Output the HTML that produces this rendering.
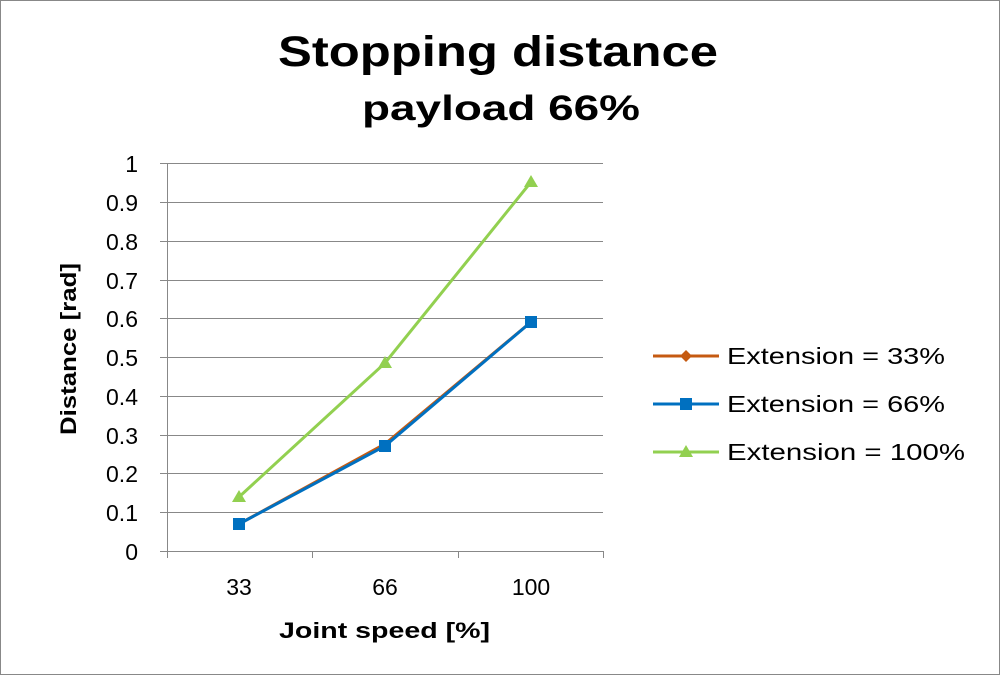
<!DOCTYPE html>
<html><head><style>
html,body{margin:0;padding:0;background:#fff;}
svg{display:block;}
text{font-family:"Liberation Sans",sans-serif;}
</style></head><body>
<svg width="1000" height="675" viewBox="0 0 1000 675">
<rect x="0.5" y="0.5" width="999" height="674" fill="#fff" stroke="#888"/>
<text x="278" y="66" font-size="43" font-weight="bold" textLength="440" lengthAdjust="spacingAndGlyphs">Stopping distance</text>
<text x="362" y="120" font-size="35" font-weight="bold" textLength="278" lengthAdjust="spacingAndGlyphs">payload 66%</text>
<g stroke="#888" stroke-width="1">
<line x1="160" y1="163.5" x2="603" y2="163.5"/>
<line x1="160" y1="202.5" x2="603" y2="202.5"/>
<line x1="160" y1="241.5" x2="603" y2="241.5"/>
<line x1="160" y1="280.5" x2="603" y2="280.5"/>
<line x1="160" y1="318.5" x2="603" y2="318.5"/>
<line x1="160" y1="357.5" x2="603" y2="357.5"/>
<line x1="160" y1="396.5" x2="603" y2="396.5"/>
<line x1="160" y1="435.5" x2="603" y2="435.5"/>
<line x1="160" y1="473.5" x2="603" y2="473.5"/>
<line x1="160" y1="512.5" x2="603" y2="512.5"/>
<line x1="160" y1="551.5" x2="603" y2="551.5"/>
<line x1="167.5" y1="163" x2="167.5" y2="558"/>
<line x1="312.5" y1="551" x2="312.5" y2="558"/>
<line x1="458.5" y1="551" x2="458.5" y2="558"/>
<line x1="603.5" y1="551" x2="603.5" y2="558"/>
</g>
<g font-size="23" text-anchor="end">
<text x="138" y="172">1</text>
<text x="138" y="211">0.9</text>
<text x="138" y="250">0.8</text>
<text x="138" y="289">0.7</text>
<text x="138" y="327">0.6</text>
<text x="138" y="366">0.5</text>
<text x="138" y="405">0.4</text>
<text x="138" y="444">0.3</text>
<text x="138" y="482">0.2</text>
<text x="138" y="521">0.1</text>
<text x="138" y="560">0</text>
</g>
<g font-size="23" text-anchor="middle">
<text x="239" y="595">33</text>
<text x="385" y="595">66</text>
<text x="531" y="595">100</text>
</g>
<text x="279" y="638" font-size="22" font-weight="bold" textLength="211" lengthAdjust="spacingAndGlyphs">Joint speed [%]</text>
<text transform="translate(76,435) rotate(-90)" font-size="22" font-weight="bold" textLength="172" lengthAdjust="spacingAndGlyphs">Distance [rad]</text>
<polyline points="239,524 385,444 531,322" fill="none" stroke="#c55a11" stroke-width="3"/>
<polyline points="239,524 385,446 531,322" fill="none" stroke="#0070c0" stroke-width="3"/>
<g fill="#0070c0"><rect x="233" y="518" width="12" height="12"/><rect x="379" y="440" width="12" height="12"/><rect x="525" y="316" width="12" height="12"/></g>
<polyline points="239,497 385,363 531,182" fill="none" stroke="#92d050" stroke-width="3"/>
<g fill="#92d050"><polygon points="239,490 246,502 232,502"/><polygon points="385,356 392,368 378,368"/><polygon points="531,175 538,187 524,187"/></g>
<line x1="653" y1="356" x2="719" y2="356" stroke="#c55a11" stroke-width="3"/>
<polygon points="686,350 692,356 686,362 680,356" fill="#c55a11"/>
<line x1="653" y1="404" x2="719" y2="404" stroke="#0070c0" stroke-width="3"/>
<rect x="680" y="398" width="12" height="12" fill="#0070c0"/>
<line x1="653" y1="452" x2="719" y2="452" stroke="#92d050" stroke-width="3"/>
<polygon points="686,445 693,457 679,457" fill="#92d050"/>
<g font-size="23">
<text x="727" y="364" textLength="218" lengthAdjust="spacingAndGlyphs">Extension = 33%</text>
<text x="727" y="412" textLength="218" lengthAdjust="spacingAndGlyphs">Extension = 66%</text>
<text x="727" y="460" textLength="238" lengthAdjust="spacingAndGlyphs">Extension = 100%</text>
</g>
</svg>
</body></html>
